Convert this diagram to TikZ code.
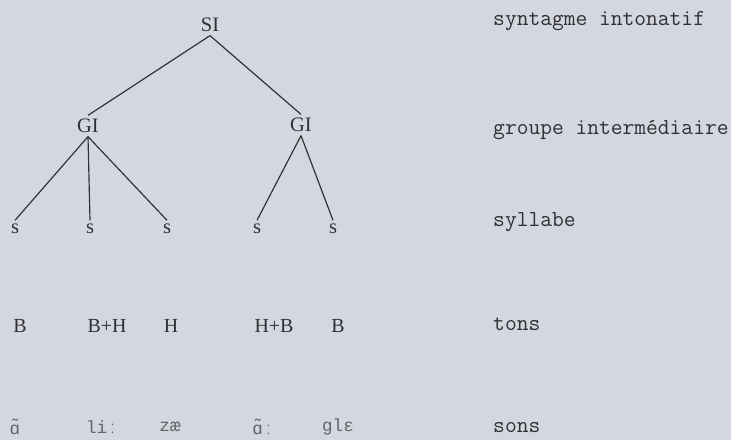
\documentclass[tikz,border=0pt]{standalone}
\usepackage{fontspec}
\setmainfont{Liberation Serif}
\newfontfamily\ipafont{Liberation Mono}
\usepackage{tikz}
\usetikzlibrary{positioning}
\definecolor{paper}{RGB}{212,215,223}
\definecolor{ink}{RGB}{48,48,52}

\begin{document}
\begin{tikzpicture}[x=0.03cm,y=-0.03cm,
  tr/.style={inner sep=3pt,font=\fontsize{17.5}{19}\selectfont,text=ink},
  ton/.style={inner sep=1pt,font=\fontsize{17}{19}\selectfont,text=ink},
  son/.style={inner sep=1pt,font=\ipafont\fontsize{15}{17}\selectfont,text=ink!75},
  lab/.style={inner sep=0pt,anchor=west,font=\ttfamily\fontsize{19.5}{21}\selectfont,text=ink},
  br/.style={draw=ink,line width=1pt}]
\fill[paper] (0,0) rectangle (731,440);
\useasboundingbox (0,0) rectangle (731,440);
\node[tr] (si) at (210,25) {SI};
\node[tr] (gi1) at (88,126) {GI};
\node[tr] (gi2) at (301,125) {GI};
\node[tr] (s1) at (15,229) {s};
\node[tr] (s2) at (90,229) {s};
\node[tr] (s3) at (167,229) {s};
\node[tr] (s4) at (257,229) {s};
\node[tr] (s5) at (333,229) {s};
\draw[br] (si.south) -- (gi1.north); \draw[br] (si.south) -- (gi2.north);
\draw[br] (gi1.south) -- (s1.north); \draw[br] (gi1.south) -- (s2.north);
\draw[br] (gi1.south) -- (s3.north);
\draw[br] (gi2.south) -- (s4.north); \draw[br] (gi2.south) -- (s5.north);
\node[ton] (t1) at (20,326) {B};
\node[ton] (t2) at (107,326) {B+H};
\node[ton] (t3) at (171,326) {H};
\node[ton] (t4) at (274,326) {H+B};
\node[ton] (t5) at (338,326) {B};
\node[son] (p1) at (15,427) {ɑ̃};
\node[son] (p2) at (102,427) {liː};
\node[son] (p3) at (170,427) {zæ};
\node[son] (p4) at (263,427) {ɑ̃ː};
\node[son] (p5) at (338,427) {glɛ};
\node[lab] (l1) at (493,21) {syntagme intonatif};
\node[lab] (l2) at (493,130) {groupe intermédiaire};
\node[lab] (l3) at (493,222) {syllabe};
\node[lab] (l4) at (493,324) {tons};
\node[lab] (l5) at (493,428) {sons};
\end{tikzpicture}
\end{document}
